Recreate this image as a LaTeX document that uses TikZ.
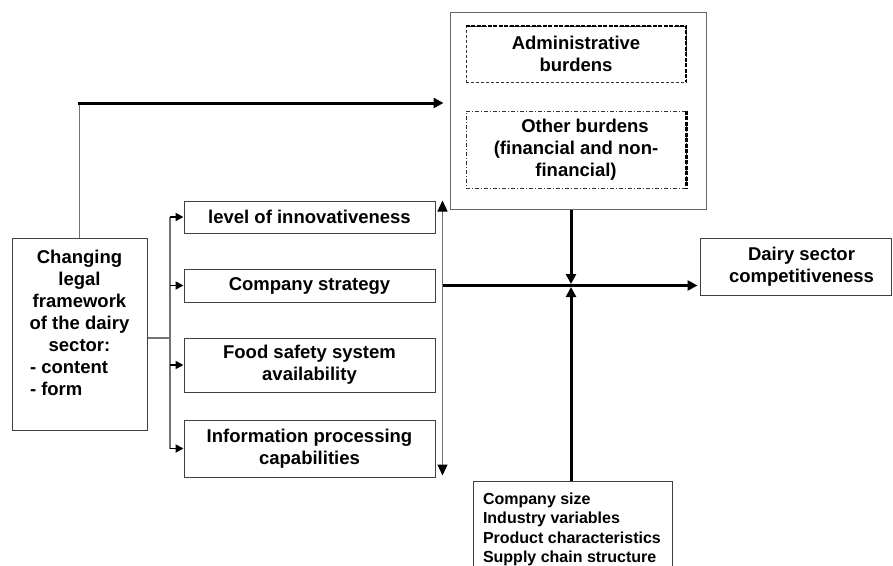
\documentclass[tikz,border=0pt]{standalone}
\usepackage{fontspec}
\setmainfont{Liberation Sans}
\usetikzlibrary{arrows.meta}
\begin{document}
\begin{tikzpicture}[x=1pt,y=-1pt,
  box/.style={draw=black!75, line width=1pt, inner sep=0pt, align=center,
    font=\bfseries\fontsize{18.5}{22}\selectfont},
  conn/.style={draw=black!55, line width=1.2pt},
  heavy/.style={draw=black, line width=3pt},
  stub/.style={draw=black, line width=1.8pt, -{Triangle[length=8pt,width=8pt]}},
  headthin/.style={{Triangle[length=11pt,width=10pt,color=black]}-{Triangle[length=11pt,width=10pt,color=black]}},
  headheavy/.style={-{Triangle[length=10pt,width=10pt]}}
]
\useasboundingbox (0,0) rectangle (893,565);

% left box
\node[box, minimum width=135pt, minimum height=192pt] (lb) at (79.5,334)
  {\parbox[c][192pt][t]{135pt}{\centering\vspace*{12pt}Changing\\legal\\framework\\of the dairy\\sector:\\
   \makebox[135pt][l]{\hspace*{18pt}- content}\\\makebox[135pt][l]{\hspace*{18pt}- form}}};

% middle boxes
\node[box, minimum width=251pt, minimum height=32pt] (b1) at (309.5,217) {level of innovativeness};
\node[box, minimum width=251pt, minimum height=33pt] (b2) at (309.5,285.5) {Company strategy};
\node[box, minimum width=251pt, minimum height=54pt] (b3) at (309.5,365) {Food safety system\\availability};
\node[box, minimum width=251pt, minimum height=57pt] (b4) at (309.5,448.5) {Information processing\\capabilities};

% burdens
\node[box, draw=black!60, minimum width=256pt, minimum height=197pt] (bur) at (578,110.5) {};
\node[box, draw=black!80, line width=0.8pt, dash pattern=on 3pt off 2pt, minimum width=220pt, minimum height=56pt] (ab) at (576,54) {Administrative\\burdens};
\draw[black, line width=2pt, dash pattern=on 4pt off 1.5pt] (ab.north west) -- (ab.north east) -- (ab.south east);
\node[box, draw=black!80, line width=0.8pt, dash pattern=on 4pt off 2pt on 1pt off 2pt, minimum width=220pt, minimum height=77pt] (ob) at (576,149.5) {\hspace*{18pt}Other burdens\\(financial and non-\\financial)};
\draw[black, line width=2.2pt, dash pattern=on 4pt off 1.5pt] (ob.north east) -- (ob.south east);

% dairy box
\node[box, minimum width=191pt, minimum height=57pt] (dc) at (795.5,266.5) {\hspace*{12pt}Dairy sector\\\hspace*{12pt}competitiveness};

% factors box
\node[box, minimum width=199pt, minimum height=91pt, font=\bfseries\fontsize{16}{19.5}\selectfont] (fx) at (572.5,526.5)
  {\parbox[c][91pt][t]{199pt}{\raggedright\leftskip=10pt\vspace*{11.5pt}Company size\\Industry variables\\Product characteristics\\Supply chain structure}};

% coordinates
\coordinate (tl) at (79.5,103);
\coordinate (bj) at (170,338);
\coordinate (va) at ([xshift=7pt]b1.north east);
\coordinate (vb) at ([xshift=7pt,yshift=2pt]b4.south east);
\coordinate (hj) at (va |- b2.east);
\coordinate (cx) at ([xshift=-1.5pt]fx.north |- hj);

% top arrow
\draw[conn] (lb.north) -- (tl);
\draw[heavy, headheavy, shorten >=6pt] ([xshift=-2pt]tl) -- (bur.west |- tl);

% bus
\draw[conn] (lb.east |- bj) -- (bj);
\draw[conn] (b1.west -| bj) -- (b4.west -| bj);
\foreach \b in {b1,b2,b3,b4} \draw[stub] (\b.west -| bj) -- (\b.west);

% vertical double arrow
\draw[conn, headthin] (va) -- (vb);

% horizontal to dairy
\draw[heavy, headheavy, shorten >=2pt] (hj) -- (dc.west |- hj);

% vertical into crossing
\draw[heavy, headheavy, shorten >=1.5pt] (cx |- bur.south) -- (cx);
\draw[heavy, headheavy, shorten >=1.5pt] (cx |- fx.north) -- (cx);
\end{tikzpicture}
\end{document}
